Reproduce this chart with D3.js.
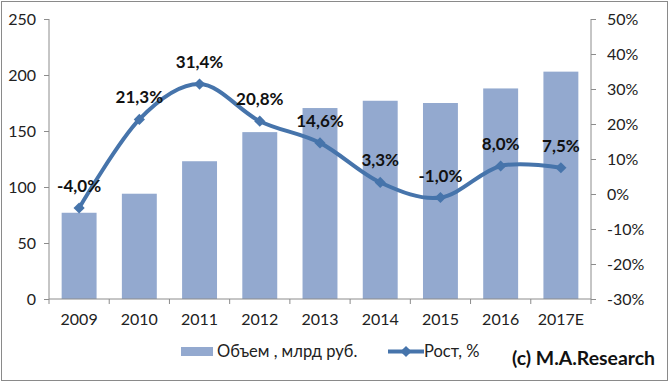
<!DOCTYPE html>
<html><head><meta charset="utf-8">
<script src="https://cdn.jsdelivr.net/npm/d3@7"></script>
<style>
body{margin:0;background:#fff;}
svg{display:block;font-family:Lato,"Open Sans",sans-serif;}
</style></head><body>
<svg id="c" width="670" height="383"></svg>
<script>
const categories = ["2009","2010","2011","2012","2013","2014","2015","2016","2017E"];
const volume = [77, 94, 123, 149, 170.5, 177, 175, 188, 203];
const growth = [-4.0, 21.3, 31.4, 20.8, 14.6, 3.3, -1.0, 8.0, 7.5];
const growthLabels = ["-4,0%","21,3%","31,4%","20,8%","14,6%","3,3%","-1,0%","8,0%","7,5%"];
const leftTicks = [0,50,100,150,200,250];
const rightTicks = [-30,-20,-10,0,10,20,30,40,50];
const legendNames = ["Объем , млрд руб.","Рост, %"];
const credit = "(c) M.A.Research";

const barColor = "#93A9CF", lineColor = "#4674AB", axisColor = "#8c8c8c", textColor = "#222";
const svg = d3.select("#c");
const L = 49, R = 591, T = 19, B = 299;

svg.append("rect").attr("x",1.5).attr("y",1.5).attr("width",666).attr("height",379)
  .attr("fill","#fff").attr("stroke","#8a8a8a").attr("stroke-width",1);

const x = d3.scaleBand().domain(categories).range([L,R]).paddingInner(0.42).paddingOuter(0.21);
const xb = d3.scaleBand().domain(categories).range([L,R]);
const yL = d3.scaleLinear().domain([0,250]).range([B,T]);
const yR = d3.scaleLinear().domain([-30,50]).range([B,T]);

// bars
svg.append("g").selectAll("rect").data(volume).join("rect")
  .attr("x",(d,i)=>x(categories[i])).attr("width",x.bandwidth())
  .attr("y",d=>yL(d)).attr("height",d=>yL(0)-yL(d)).attr("fill",barColor);

// left axis
const gl = svg.append("g").attr("transform",`translate(${L},0)`)
  .call(d3.axisLeft(yL).tickValues(leftTicks).tickSize(5).tickPadding(8).tickFormat(d3.format("d")));
// right axis
const gr = svg.append("g").attr("transform",`translate(${R},0)`)
  .call(d3.axisRight(yR).tickValues(rightTicks).tickSize(5).tickPadding(11).tickFormat(d=>d+"%"));
// x axis
const gx = svg.append("g").attr("transform",`translate(0,${B})`)
  .call(d3.axisBottom(xb).tickSize(0).tickPadding(15));
gx.selectAll(".tick").append("line").attr("x1",-xb.bandwidth()/2).attr("x2",-xb.bandwidth()/2).attr("y2",5).attr("stroke",axisColor);
gx.append("line").attr("x1",R).attr("x2",R).attr("y2",5).attr("stroke",axisColor);

[gl,gr,gx].forEach(g=>{
  g.select(".domain").attr("stroke",axisColor);
  g.selectAll(".tick line").attr("stroke",axisColor);
  g.selectAll("text").attr("fill",textColor).style("font-size","16px").style("font-family","Lato,'Open Sans',sans-serif");
});
gl.select(".domain").attr("d",`M0,${T}V${B}`);
gr.select(".domain").attr("d",`M0,${T}V${B}`);
gx.select(".domain").attr("d",`M${L},0H${R}`);

// line
const cx = i => xb(categories[i]) + xb.bandwidth()/2;
const line = d3.line().x((d,i)=>cx(i)).y(d=>yR(d)).curve(d3.curveCardinal.tension(0));
svg.append("path").datum(growth).attr("d",line).attr("fill","none")
  .attr("stroke",lineColor).attr("stroke-width",4).attr("stroke-linecap","round");
const diamond = d3.symbol().type(d3.symbolDiamond2).size(80);
svg.append("g").selectAll("path").data(growth).join("path")
  .attr("d",diamond).attr("transform",(d,i)=>`translate(${cx(i)},${yR(d)})`)
  .attr("fill",lineColor);
svg.append("g").selectAll("text").data(growth).join("text")
  .attr("x",(d,i)=>cx(i)).attr("y",d=>yR(d)-16)
  .attr("text-anchor","middle").attr("font-weight","bold").attr("font-size","17px")
  .attr("fill","#111").text((d,i)=>growthLabels[i]);

// legend
svg.append("rect").attr("x",181).attr("y",347).attr("width",32).attr("height",9).attr("fill",barColor);
svg.append("text").attr("x",217).attr("y",357).attr("font-size","16.5px").attr("fill",textColor).text(legendNames[0]);
svg.append("line").attr("x1",388).attr("x2",424).attr("y1",351.5).attr("y2",351.5).attr("stroke",lineColor).attr("stroke-width",4);
svg.append("path").attr("d",diamond).attr("transform","translate(406,351.5)").attr("fill",lineColor);
svg.append("text").attr("x",424).attr("y",357).attr("font-size","16.5px").attr("fill",textColor).text(legendNames[1]);
svg.append("text").attr("x",512).attr("y",365).attr("font-size","18px").attr("font-weight","bold").attr("fill","#111")
  .attr("textLength",143).attr("lengthAdjust","spacingAndGlyphs").text(credit);
</script></body></html>
